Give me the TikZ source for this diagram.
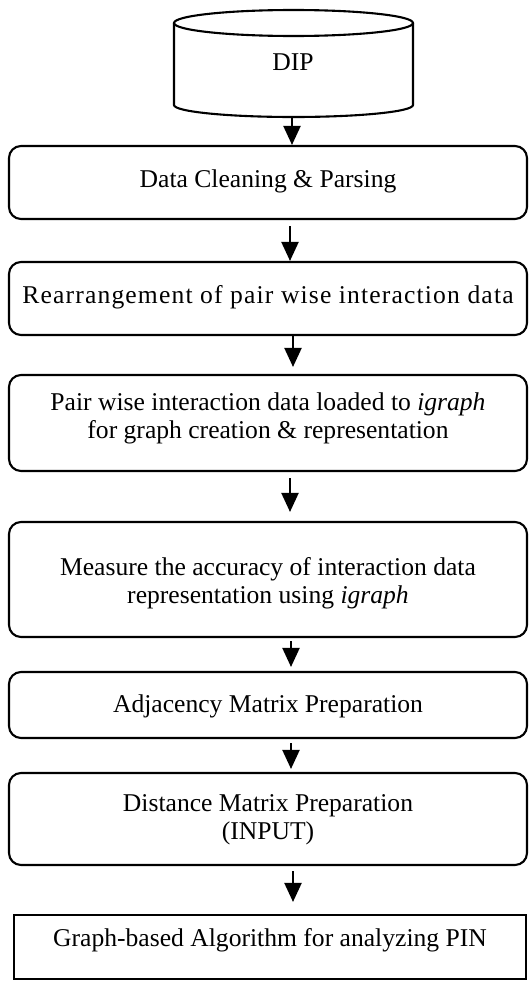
\documentclass[tikz,border=0pt]{standalone}
\usepackage{fontspec}
\setmainfont{Liberation Serif}
\newfontfamily\spacedserif[LetterSpace=4.5]{Liberation Serif}
\usetikzlibrary{arrows.meta,calc}
\begin{document}
\begin{tikzpicture}[x=0.5pt,y=-0.5pt,
  line width=1.05pt,
  every node/.style={font=\fontsize{12.8}{14}\selectfont},
  stepbox/.style={draw, line width=1.05pt, rounded corners=6pt, minimum width=259pt, inner sep=0pt},
  finalbox/.style={draw, line width=1.05pt, minimum width=256pt, minimum height=32pt, inner sep=0pt},
  label/.style={align=center, inner sep=0pt},
  flow/.style={-{Triangle[length=9.5pt,width=8.5pt]}, line width=1.05pt}]
\useasboundingbox (0,0) rectangle (529,985);

% database cylinder
\draw (174,23) -- (174,105) arc[start angle=180, end angle=360, x radius=59.75pt, y radius=6pt] -- (413,23);
\draw (293.5,23) ellipse [x radius=59.75pt, y radius=6.5pt];
\node[label] (dip) at (293,62) {DIP};
\coordinate (cylbot) at (292,117);

% process boxes
\node[stepbox, minimum height=36.5pt] (b1) at (268,182.5) {};
\node[stepbox, minimum height=36.5pt] (b2) at (268,298.5) {};
\node[stepbox, minimum height=48pt]   (b3) at (268,423) {};
\node[stepbox, minimum height=57.5pt] (b4) at (268,579.5) {};
\node[stepbox, minimum height=33pt]   (b5) at (268,705) {};
\node[stepbox, minimum height=46pt]   (b6) at (268,819) {};
\node[finalbox] (b7) at (270,947) {};

% box texts
\node[label] (t1) at (268,181) {Data Cleaning \& Parsing};
\node[label, font=\spacedserif\fontsize{12.8}{14}\selectfont] (t2) at (268,297) {Rearrangement of pair wise interaction data};
\node[label] (t3) at (268,418) {Pair wise interaction data loaded to \textit{igraph}\\for graph creation \& representation};
\node[label] (t4) at (268,583) {Measure the accuracy of interaction data\\representation using \textit{igraph}};
\node[label] (t5) at (268,706) {Adjacency Matrix Preparation};
\node[label] (t6) at (268,820) {Distance Matrix Preparation\\(INPUT)};
\node[label] (t7) at (270,940) {Graph-based Algorithm for analyzing PIN};

% horizontal positions of the connectors
\coordinate (x1) at (290,0);
\coordinate (x2) at (293,0);
\coordinate (x3) at (290,0);
\coordinate (x4) at (291,0);
\coordinate (x5) at (291,0);
\coordinate (x6) at (293,0);

% connectors
\draw[flow] (cylbot) -- (b1.north -| cylbot);
\draw[flow, shorten <=3pt] (b1.south -| x1) -- (b2.north -| x1);
\draw[flow, shorten >=3.5pt] (b2.south -| x2) -- (b3.north -| x2);
\draw[flow, shorten <=3pt, shorten >=4.5pt] (b3.south -| x3) -- (b4.north -| x3);
\draw[flow, shorten <=1.5pt, shorten >=2pt] (b4.south -| x4) -- (b5.north -| x4);
\draw[flow, shorten <=2pt, shorten >=1.5pt] (b5.south -| x5) -- (b6.north -| x5);
\draw[flow, shorten <=2.5pt, shorten >=6pt] (b6.south -| x6) -- (b7.north -| x6);
\end{tikzpicture}
\end{document}
